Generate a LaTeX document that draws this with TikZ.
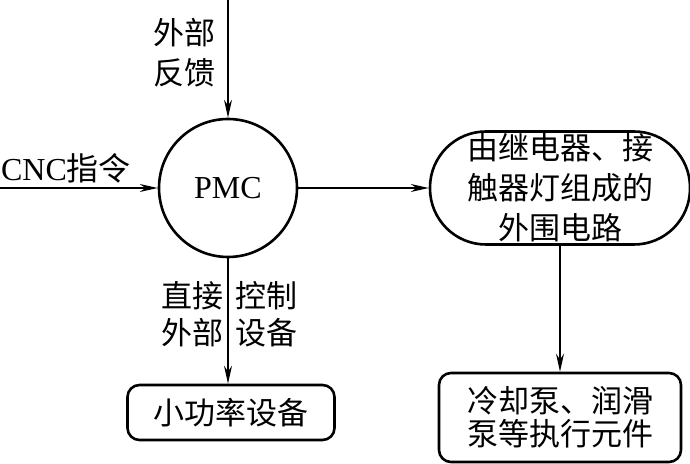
\documentclass[tikz,border=0pt]{standalone}
\usepackage{fontspec}
\setmainfont{Liberation Serif}
\newfontfamily\cjk{Noto Sans CJK SC}
\usetikzlibrary{
  arrows.meta,
  positioning
}

\begin{document}
\begin{tikzpicture}[
  x=0.5pt,
  y=-0.5pt,
  plain/.style={
    draw=none,
    fill=none,
    inner sep=0pt,
    align=center,
    font=\cjk\fontsize{15.5}{20}\selectfont
  },
  unit/.style={
    draw,
    line width=1.3pt,
    inner sep=0pt,
    align=center,
    font=\cjk\fontsize{15.5}{20}\selectfont
  },
  link/.style={
    line width=0.7pt,
    -{Stealth[length=9pt,width=4pt]}
  }
]
\useasboundingbox (0,0) rectangle (690,464);

% Blocks
\node[unit,circle,minimum size=69pt,font=\fontsize{16}{18}\selectfont] (pmc) at (228,188) {PMC};
\node[unit,rounded corners=28pt,minimum width=130pt,minimum height=56.5pt] (relay) at (560,188)
  {由继电器、接\\触器灯组成的\\外围电路};
\node[unit,rounded corners=6pt,minimum width=121pt,minimum height=44.5pt,
  font=\cjk\fontsize{15.5}{16.5}\selectfont] (pump) at (560,417.5)
  {冷却泵、润滑\\泵等执行元件};
\node[unit,rounded corners=6pt,minimum width=103.5pt,minimum height=27.5pt] (small) at (231,412.5)
  {小功率设备};

% Free ends
\coordinate (fb) at (228,0);
\coordinate (cnc) at (0,188);

% Labels
\node[plain] (fbtext) at (184,53) {外部\\反馈};
\node[plain,font=\fontsize{16}{18}\selectfont] (cnctext) at (66,168) {CNC{\cjk 指令}};
\node[plain,font=\cjk\fontsize{15.5}{18.5}\selectfont] (direct) at (192,314) {直接\\外部};
\node[plain,font=\cjk\fontsize{15.5}{18.5}\selectfont] (ctrl) at (266,314) {控制\\设备};

% Arrows
\draw[link] (fb) -- (pmc.north);
\draw[link] (cnc) -- (pmc.west);
\draw[link] (pmc.east) -- (relay.west);
\draw[link] (relay.south) -- (pump.north);
\draw[link] (pmc.south) -- (pmc.south |- small.north);

\end{tikzpicture}
\end{document}
